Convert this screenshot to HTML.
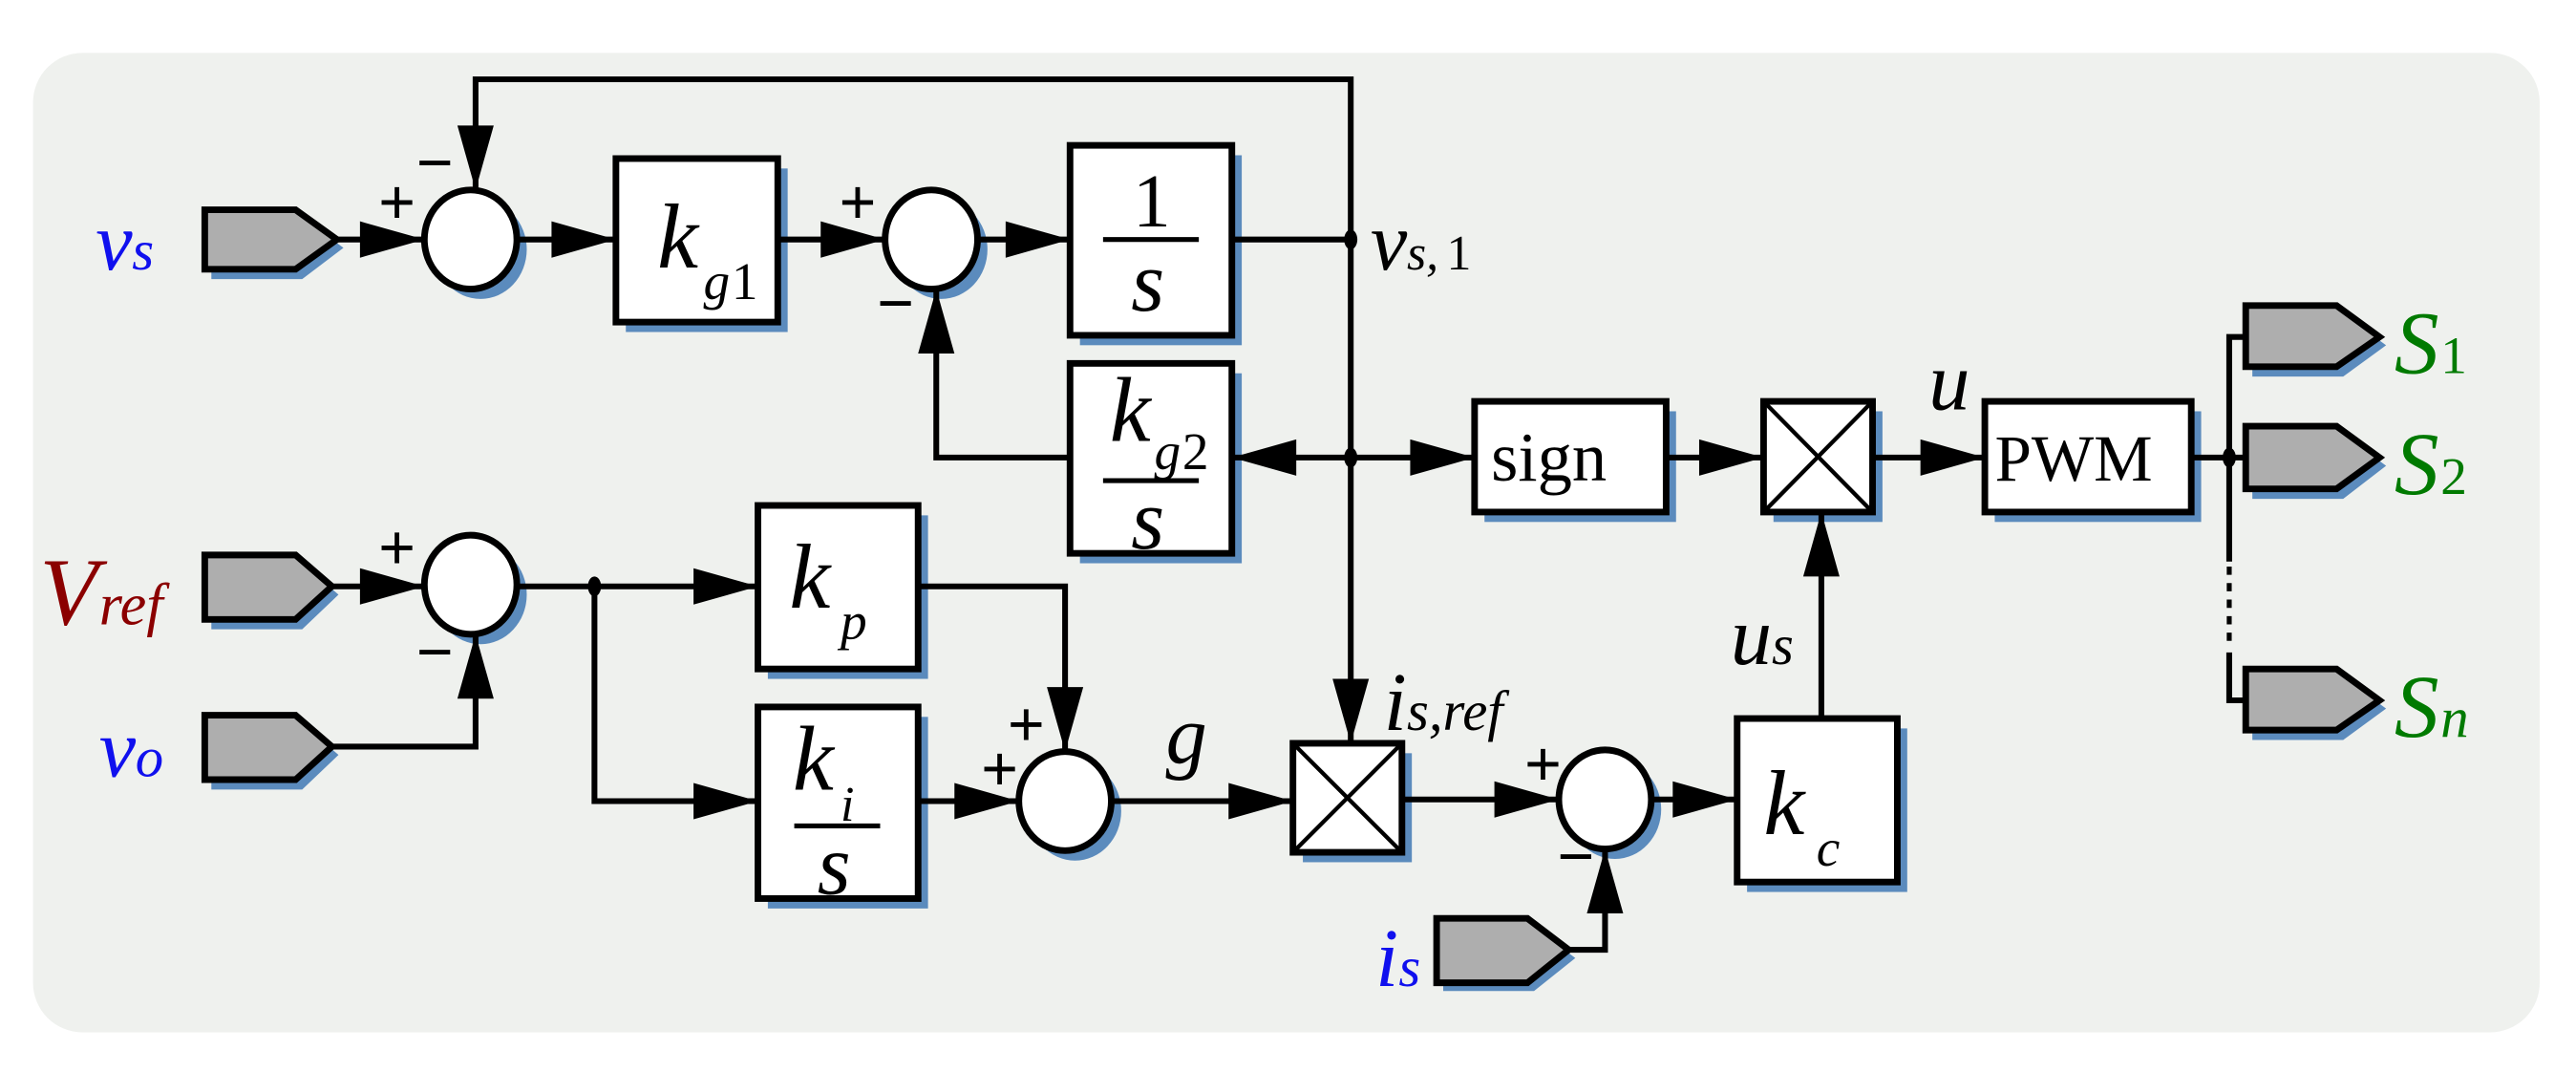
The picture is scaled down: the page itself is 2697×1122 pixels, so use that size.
<!DOCTYPE html>
<html><head><meta charset="utf-8"><style>
html,body{margin:0;padding:0;background:#fff}
svg{display:block}
text{font-family:"Liberation Serif","DejaVu Serif",serif;font-style:italic}
</style></head><body>
<svg width="2697" height="1122" viewBox="0 0 1560 649" preserveAspectRatio="none" xmlns="http://www.w3.org/2000/svg" font-family="Liberation Serif, DejaVu Serif, serif">
<rect x="20" y="32" width="1518" height="593" rx="30" fill="#eff1ee"/>
<g fill="#5b8bbd">
<rect x="379" y="102" width="98" height="99"/>
<rect x="654" y="94" width="98" height="115"/>
<rect x="654" y="226" width="98" height="115"/>
<rect x="899" y="249" width="116" height="67"/>
<rect x="1074" y="249" width="66" height="67"/>
<rect x="1208" y="249" width="125" height="67"/>
<rect x="465" y="312" width="97" height="99"/>
<rect x="465" y="434" width="97" height="116"/>
<rect x="789" y="456" width="66" height="66"/>
<rect x="1058" y="441" width="97" height="99"/>
<ellipse cx="291" cy="151" rx="28" ry="30"/>
<ellipse cx="570" cy="151" rx="28" ry="30"/>
<ellipse cx="291" cy="360" rx="28" ry="30"/>
<ellipse cx="651" cy="491" rx="28" ry="30"/>
<ellipse cx="978" cy="490" rx="28" ry="30"/>
<polygon points="128,132 183,132 208,150 183,169 128,169"/>
<polygon points="128,341 183,341 205,360 183,381 128,381"/>
<polygon points="128,438 183,438 205,457 183,478 128,478"/>
<polygon points="874,561 929,561 954,580 929,600 874,600"/>
<polygon points="1364,190 1419,190 1445,209 1419,228 1364,228"/>
<polygon points="1364,263 1419,263 1445,282 1419,302 1364,302"/>
<polygon points="1364,410 1419,410 1445,429 1419,448 1364,448"/>
</g>
<g stroke="#000" stroke-width="4" fill="#fff">
<rect x="373" y="96" width="98" height="99"/>
<rect x="648" y="88" width="98" height="115"/>
<rect x="648" y="220" width="98" height="115"/>
<rect x="893" y="243" width="116" height="67"/>
<rect x="1068" y="243" width="66" height="67"/>
<rect x="1202" y="243" width="125" height="67"/>
<rect x="459" y="306" width="97" height="99"/>
<rect x="459" y="428" width="97" height="116"/>
<rect x="783" y="450" width="66" height="66"/>
<rect x="1052" y="435" width="97" height="99"/>
<ellipse cx="285" cy="145" rx="28" ry="30"/>
<ellipse cx="564" cy="145" rx="28" ry="30"/>
<ellipse cx="285" cy="354" rx="28" ry="30"/>
<ellipse cx="645" cy="485" rx="28" ry="30"/>
<ellipse cx="972" cy="484" rx="28" ry="30"/>
</g>
<g stroke="#000" stroke-width="4" fill="#aeaeae">
<polygon points="124,127 179,127 204,145 179,163 124,163"/>
<polygon points="124,336 179,336 201,355 179,375 124,375"/>
<polygon points="124,433 179,433 201,452 179,472 124,472"/>
<polygon points="870,556 925,556 950,575 925,595 870,595"/>
<polygon points="1360,185 1415,185 1441,204 1415,222 1360,222"/>
<polygon points="1360,258 1415,258 1441,277 1415,296 1360,296"/>
<polygon points="1360,405 1415,405 1441,424 1415,442 1360,442"/>
</g>
<g stroke="#000" stroke-width="2.5">
<line x1="1068" y1="243" x2="1134" y2="310"/><line x1="1134" y1="243" x2="1068" y2="310"/>
<line x1="783" y1="450" x2="849" y2="516"/><line x1="849" y1="450" x2="783" y2="516"/>
</g>
<g stroke="#000" stroke-width="3.5" fill="none">
<line x1="204" y1="145" x2="257" y2="145"/>
<line x1="313" y1="145" x2="373" y2="145"/>
<line x1="471" y1="145" x2="536" y2="145"/>
<line x1="592" y1="145" x2="648" y2="145"/>
<line x1="746" y1="145" x2="818" y2="145"/>
<polyline points="288,115 288,48 818,48 818,450"/>
<line x1="746" y1="277" x2="893" y2="277"/>
<polyline points="648,277 567,277 567,175"/>
<line x1="1009" y1="277" x2="1068" y2="277"/>
<line x1="1134" y1="277" x2="1202" y2="277"/>
<line x1="1327" y1="277" x2="1360" y2="277"/>
<polyline points="1360,204 1350,204 1350,340"/>
<polyline points="1350,395 1350,424 1360,424"/>
<line x1="1350" y1="343" x2="1350" y2="393" stroke-dasharray="5,5" stroke-width="3"/>
<line x1="201" y1="355" x2="257" y2="355"/>
<line x1="313" y1="355" x2="459" y2="355"/>
<polyline points="360,355 360,485 459,485"/>
<polyline points="201,452 288,452 288,384"/>
<polyline points="556,355 645,355 645,455"/>
<line x1="556" y1="485" x2="617" y2="485"/>
<line x1="673" y1="485" x2="783" y2="485"/>
<line x1="849" y1="484" x2="944" y2="484"/>
<line x1="1000" y1="484" x2="1052" y2="484"/>
<line x1="1103" y1="435" x2="1103" y2="310"/>
<polyline points="950,575 972,575 972,514"/>
</g>
<g fill="#000">
<polygon points="218,134 257,145 218,156"/>
<polygon points="334,134 373,145 334,156"/>
<polygon points="497,134 536,145 497,156"/>
<polygon points="609,134 648,145 609,156"/>
<polygon points="277,76 288,115 299,76"/>
<polygon points="556,214 567,175 578,214"/>
<polygon points="785,266 746,277 785,288"/>
<polygon points="854,266 893,277 854,288"/>
<polygon points="1029,266 1068,277 1029,288"/>
<polygon points="1163,266 1202,277 1163,288"/>
<polygon points="218,344 257,355 218,366"/>
<polygon points="420,344 459,355 420,366"/>
<polygon points="420,474 459,485 420,496"/>
<polygon points="277,423 288,384 299,423"/>
<polygon points="634,416 645,455 656,416"/>
<polygon points="578,474 617,485 578,496"/>
<polygon points="744,474 783,485 744,496"/>
<polygon points="905,473 944,484 905,495"/>
<polygon points="1013,473 1052,484 1013,495"/>
<polygon points="807,411 818,450 829,411"/>
<polygon points="1092,349 1103,310 1114,349"/>
<polygon points="961,553 972,514 983,553"/>
<ellipse cx="818" cy="145" rx="4" ry="6"/>
<ellipse cx="818" cy="277" rx="4" ry="6"/>
<ellipse cx="1350" cy="277" rx="4" ry="6"/>
<ellipse cx="360" cy="355" rx="4" ry="6"/>
</g>
<g fill="#000" font-size="40" font-weight="bold" style="font-style:normal">
<text x="229" y="136" style="font-style:normal">+</text>
<text x="252" y="112" style="font-style:normal">−</text>
<text x="508" y="136" style="font-style:normal">+</text>
<text x="531" y="197" style="font-style:normal">−</text>
<text x="229" y="345" style="font-style:normal">+</text>
<text x="252" y="408" style="font-style:normal">−</text>
<text x="610" y="452" style="font-style:normal">+</text>
<text x="594" y="479" style="font-style:normal">+</text>
<text x="923" y="476" style="font-style:normal">+</text>
<text x="943" y="532" style="font-style:normal">−</text>
</g>
<g fill="#000">
<text x="398" y="162" font-size="56">k</text><text x="426" y="181" font-size="32">g</text><text x="443" y="181" font-size="32" style="font-style:normal">1</text>
<text x="686" y="137" font-size="46" style="font-style:normal">1</text>
<line x1="668" y1="145" x2="726" y2="145" stroke="#000" stroke-width="3"/>
<text x="685" y="188" font-size="52">s</text>
<text x="672" y="267" font-size="56">k</text><text x="699" y="284" font-size="32">g</text><text x="716" y="284" font-size="32" style="font-style:normal">2</text>
<line x1="668" y1="291" x2="726" y2="291" stroke="#000" stroke-width="3"/>
<text x="685" y="332" font-size="52">s</text>
<text x="903" y="291" font-size="42" style="font-style:normal">sign</text>
<text x="1208" y="291" font-size="40" style="font-style:normal">PWM</text>
<text x="478" y="368" font-size="56">k</text><text x="509" y="387" font-size="32">p</text>
<text x="480" y="478" font-size="56">k</text><text x="509" y="497" font-size="30">i</text>
<line x1="481" y1="500" x2="533" y2="500" stroke="#000" stroke-width="3"/>
<text x="495" y="541" font-size="52">s</text>
<text x="1068" y="505" font-size="56">k</text><text x="1100" y="524" font-size="32">c</text>
<text x="706" y="462" font-size="50">g</text>
<text x="1168" y="248" font-size="50">u</text>
<text x="1048" y="402" font-size="50">u</text><text x="1073" y="402" font-size="34">s</text>
<text x="838" y="442" font-size="50">i</text><text x="852" y="442" font-size="34">s,ref</text>
<text x="830" y="163" font-size="50">v</text><text x="852" y="163" font-size="30">s,</text><text x="876" y="163" font-size="30" style="font-style:normal">1</text>
</g>
<g fill="#1010ee">
<text x="58" y="163" font-size="50">v</text><text x="80" y="163" font-size="34">s</text>
<text x="60" y="470" font-size="50">v</text><text x="82" y="470" font-size="34">o</text>
<text x="833" y="597" font-size="50">i</text><text x="847" y="597" font-size="34">s</text>
</g>
<g fill="#8b0000">
<text x="24" y="378" font-size="58">V</text><text x="60" y="378" font-size="36">ref</text>
</g>
<g fill="#007a00">
<text x="1450" y="226" font-size="54">S</text><text x="1478" y="226" font-size="32" style="font-style:normal">1</text>
<text x="1450" y="299" font-size="54">S</text><text x="1478" y="299" font-size="32" style="font-style:normal">2</text>
<text x="1450" y="446" font-size="54">S</text><text x="1478" y="446" font-size="34">n</text>
</g>
</svg>
</body></html>
